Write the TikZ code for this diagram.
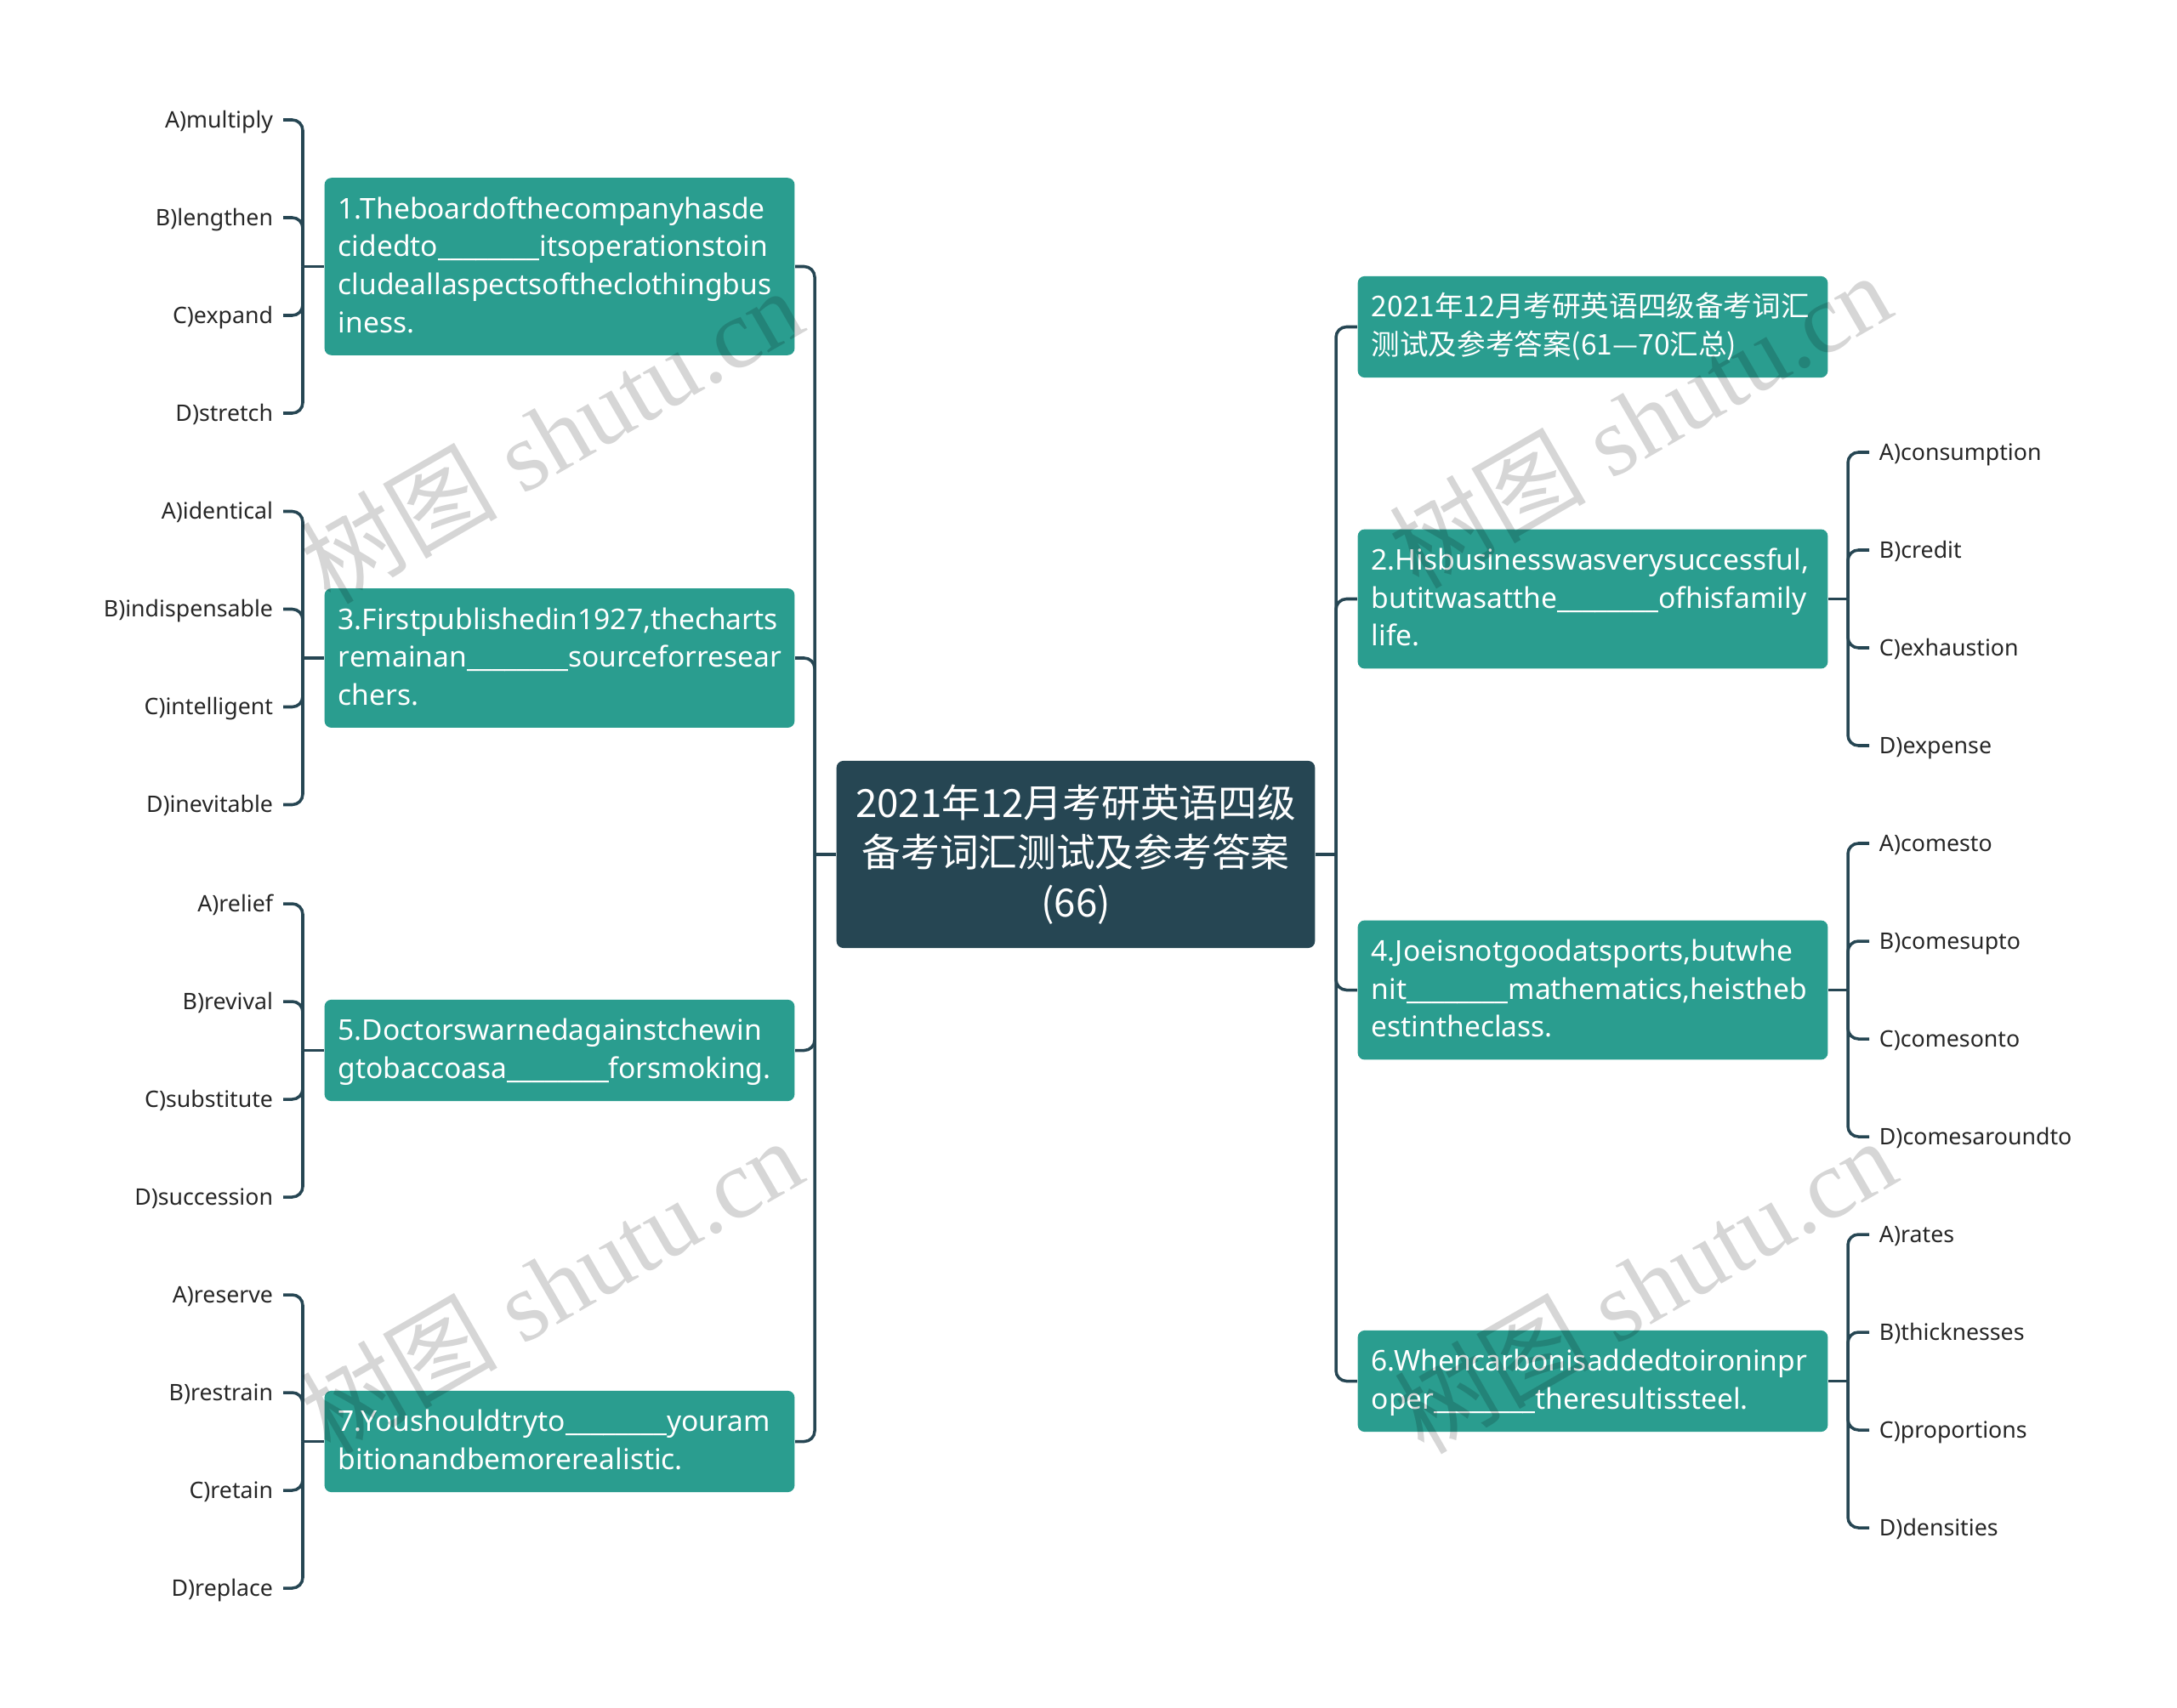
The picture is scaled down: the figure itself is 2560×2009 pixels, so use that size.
\documentclass[tikz,border=0pt]{standalone}
\usepackage{fontspec}
\setmainfont{Noto Sans}
\newfontfamily\cjk{Noto Sans CJK SC}
\newfontfamily\wmserif{Liberation Serif}
\definecolor{qteal}{HTML}{2A9D8F}
\definecolor{qdark}{HTML}{264653}
\newcommand{\bstrut}{\rule[-3.3pt]{0pt}{12.7pt}}
\newcommand{\blank}{\_\_\_\_\_\_\_\_}

\tikzset{
	root/.style={fill=qdark, text=white, rounded corners=2.3pt, align=center, minimum width=160pt, minimum height=62.6pt, font=\cjk\fontsize{13}{16.7}\selectfont},
	qbox/.style={fill=qteal, text=white, rounded corners=2.3pt, align=left, text width=148pt, inner xsep=4.6pt, inner ysep=4.25pt, font=\fontsize{9.55}{12.7}\selectfont, execute at begin node=\bstrut, execute at end node=\bstrut},
	zhbox/.style={qbox, font=\cjk\fontsize{9.55}{12.7}\selectfont},
	leaf/.style={inner xsep=3.2pt, inner ysep=0pt, text height=6.6pt, text depth=1.4pt, text=black!85, font=\fontsize{7.6}{9}\selectfont},
	conn/.style={draw=qdark, line width=1pt, rounded corners=3.5pt},
	wmark/.style={rotate=30, text=black, text opacity=0.16, font=\wmserif\fontsize{33}{33}\selectfont}
}

\begin{document}
\begin{tikzpicture}[x=0.01cm, y=-0.01cm]
	\useasboundingbox (0,0) rectangle (2560,2009);

	\node[root] (root) at (1265,1005) {2021年12月考研英语四级\\备考词汇测试及参考答案\\(66)};
	\coordinate (lj) at (958,1005);
	\coordinate (rj) at (1571,1005);

	% left side
	\node[qbox] (q1) at (658,313.5) {1.Theboardofthecompanyhasde\\cidedto\blank itsoperationstoin\\cludeallaspectsoftheclothingbus\\iness.};
	\node[qbox] (q3) at (658,774) {3.Firstpublishedin1927,thecharts\\remainan\blank sourceforresear\\chers.};
	\node[qbox] (q5) at (658,1235.5) {5.Doctorswarnedagainstchewin\\gtobaccoasa\blank forsmoking.};
	\node[qbox] (q7) at (658,1695.5) {7.Youshouldtryto\blank youram\\bitionandbemorerealistic.};

	% right side
	\node[zhbox] (t0) at (1873,384.5) {2021年12月考研英语四级备考词汇\\测试及参考答案(61—70汇总)};
	\node[qbox] (q2) at (1873,704.5) {2.Hisbusinesswasverysuccessful,\\butitwasatthe\blank ofhisfamily\\life.};
	\node[qbox] (q4) at (1873,1164.5) {4.Joeisnotgoodatsports,butwhe\\nit\blank mathematics,heistheb\\estintheclass.};
	\node[qbox] (q6) at (1873,1624.5) {6.Whencarbonisaddedtoironinpr\\oper\blank theresultissteel.};

	% options
	\node[leaf, anchor=east] (q1a) at (333,141) {A)multiply};
	\node[leaf, anchor=east] (q1b) at (333,256) {B)lengthen};
	\node[leaf, anchor=east] (q1c) at (333,371) {C)expand};
	\node[leaf, anchor=east] (q1d) at (333,486) {D)stretch};
	\node[leaf, anchor=east] (q3a) at (333,601.5) {A)identical};
	\node[leaf, anchor=east] (q3b) at (333,716.5) {B)indispensable};
	\node[leaf, anchor=east] (q3c) at (333,831.5) {C)intelligent};
	\node[leaf, anchor=east] (q3d) at (333,946.5) {D)inevitable};
	\node[leaf, anchor=east] (q5a) at (333,1063) {A)relief};
	\node[leaf, anchor=east] (q5b) at (333,1178) {B)revival};
	\node[leaf, anchor=east] (q5c) at (333,1293) {C)substitute};
	\node[leaf, anchor=east] (q5d) at (333,1408) {D)succession};
	\node[leaf, anchor=east] (q7a) at (333,1523) {A)reserve};
	\node[leaf, anchor=east] (q7b) at (333,1638) {B)restrain};
	\node[leaf, anchor=east] (q7c) at (333,1753) {C)retain};
	\node[leaf, anchor=east] (q7d) at (333,1868) {D)replace};

	\node[leaf, anchor=west] (q2a) at (2198,532) {A)consumption};
	\node[leaf, anchor=west] (q2b) at (2198,647) {B)credit};
	\node[leaf, anchor=west] (q2c) at (2198,762) {C)exhaustion};
	\node[leaf, anchor=west] (q2d) at (2198,877) {D)expense};
	\node[leaf, anchor=west] (q4a) at (2198,992) {A)comesto};
	\node[leaf, anchor=west] (q4b) at (2198,1107) {B)comesupto};
	\node[leaf, anchor=west] (q4c) at (2198,1222) {C)comesonto};
	\node[leaf, anchor=west] (q4d) at (2198,1337) {D)comesaroundto};
	\node[leaf, anchor=west] (q6a) at (2198,1452) {A)rates};
	\node[leaf, anchor=west] (q6b) at (2198,1567) {B)thicknesses};
	\node[leaf, anchor=west] (q6c) at (2198,1682) {C)proportions};
	\node[leaf, anchor=west] (q6d) at (2198,1797) {D)densities};

	\coordinate (q1j) at (356,313.5);
	\coordinate (q3j) at (356,774);
	\coordinate (q5j) at (356,1235.5);
	\coordinate (q7j) at (356,1695.5);
	\coordinate (q2j) at (2173,704.5);
	\coordinate (q4j) at (2173,1164.5);
	\coordinate (q6j) at (2173,1624.5);

	% branches
	\draw[conn] (root.west) -- (lj);
	\draw[conn] (lj) |- (q1.east);
	\draw[conn] (lj) |- (q3.east);
	\draw[conn] (lj) |- (q5.east);
	\draw[conn] (lj) |- (q7.east);
	\draw[conn] (root.east) -- (rj);
	\draw[conn] (rj) |- (t0.west);
	\draw[conn] (rj) |- (q2.west);
	\draw[conn] (rj) |- (q4.west);
	\draw[conn] (rj) |- (q6.west);

	\draw[conn] (q1.west) -- (q1j);
	\draw[conn] (q1j) |- (q1a.east);
	\draw[conn] (q1j) |- (q1b.east);
	\draw[conn] (q1j) |- (q1c.east);
	\draw[conn] (q1j) |- (q1d.east);
	\draw[conn] (q3.west) -- (q3j);
	\draw[conn] (q3j) |- (q3a.east);
	\draw[conn] (q3j) |- (q3b.east);
	\draw[conn] (q3j) |- (q3c.east);
	\draw[conn] (q3j) |- (q3d.east);
	\draw[conn] (q5.west) -- (q5j);
	\draw[conn] (q5j) |- (q5a.east);
	\draw[conn] (q5j) |- (q5b.east);
	\draw[conn] (q5j) |- (q5c.east);
	\draw[conn] (q5j) |- (q5d.east);
	\draw[conn] (q7.west) -- (q7j);
	\draw[conn] (q7j) |- (q7a.east);
	\draw[conn] (q7j) |- (q7b.east);
	\draw[conn] (q7j) |- (q7c.east);
	\draw[conn] (q7j) |- (q7d.east);

	\draw[conn] (q2.east) -- (q2j);
	\draw[conn] (q2j) |- (q2a.west);
	\draw[conn] (q2j) |- (q2b.west);
	\draw[conn] (q2j) |- (q2c.west);
	\draw[conn] (q2j) |- (q2d.west);
	\draw[conn] (q4.east) -- (q4j);
	\draw[conn] (q4j) |- (q4a.west);
	\draw[conn] (q4j) |- (q4b.west);
	\draw[conn] (q4j) |- (q4c.west);
	\draw[conn] (q4j) |- (q4d.west);
	\draw[conn] (q6.east) -- (q6j);
	\draw[conn] (q6j) |- (q6a.west);
	\draw[conn] (q6j) |- (q6b.west);
	\draw[conn] (q6j) |- (q6c.west);
	\draw[conn] (q6j) |- (q6d.west);

	% watermarks
	\node[wmark] (wm1) at (648,512) {{\cjk 树图} shutu.cn};
	\node[wmark] (wm2) at (648,1512) {{\cjk 树图} shutu.cn};
	\node[wmark] (wm3) at (1928,494) {{\cjk 树图} shutu.cn};
	\node[wmark] (wm4) at (1934,1512) {{\cjk 树图} shutu.cn};
\end{tikzpicture}
\end{document}
